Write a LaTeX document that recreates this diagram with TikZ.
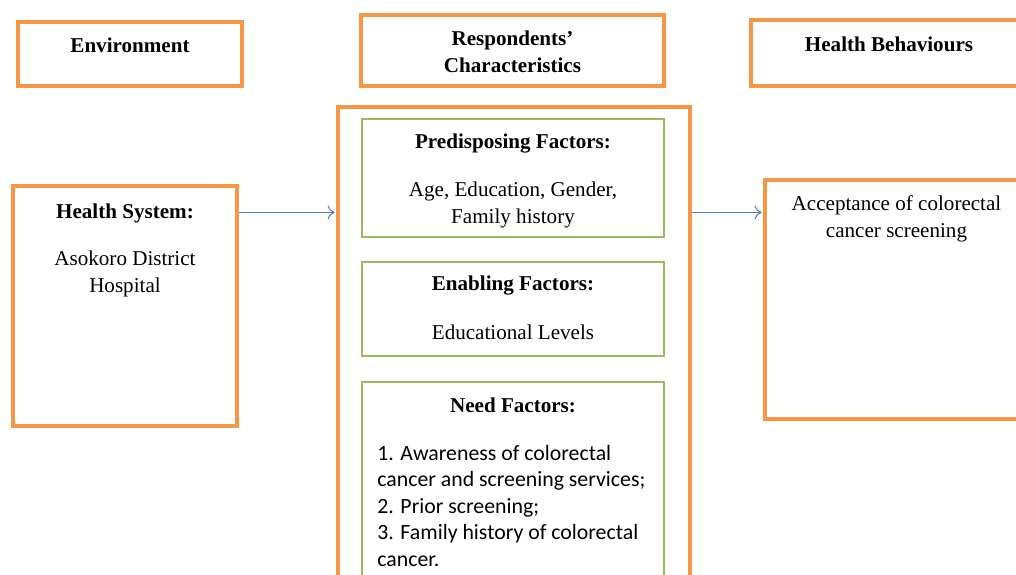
\documentclass[tikz,border=0pt]{standalone}
\usepackage{fontspec}
\setmainfont{Liberation Serif}
\newfontfamily\calibri{Carlito}
\usepackage{tikz}
\usetikzlibrary{positioning, arrows.meta}

\definecolor{boxorange}{RGB}{247,150,70}
\definecolor{boxgreen}{RGB}{155,187,89}
\definecolor{arrowblue}{RGB}{79,129,189}

\begin{document}
\begin{tikzpicture}[every node/.style={font=\fontsize{12}{15.5}\selectfont},
    obox/.style={draw=boxorange, line width=1.8pt, inner sep=0pt},
    gbox/.style={draw=boxgreen, line width=1.1pt, inner sep=0pt},
    txt/.style={align=center, inner sep=0pt},
    link/.style={-{To[length=4pt, width=8pt]}, arrowblue, line width=0.6pt}]
      \clip (0,0) rectangle (20.32,-11.5);

      % Kopfzeile
      \node[obox, minimum width=4.48cm, minimum height=1.28cm] (env) at (2.60,-1.08) {};
      \node[txt, below=0.34cm of env.north] (envtxt) {\textbf{Environment}};

      \node[obox, minimum width=6.06cm, minimum height=1.42cm] (resp) at (10.25,-1.01) {};
      \node[txt, below=0.34cm of resp.north] (resptxt) {\textbf{Respondents'}\\\textbf{Characteristics}};

      \node[obox, minimum width=5.52cm, minimum height=1.32cm] (behav) at (17.78,-1.06) {};
      \node[txt, below=0.36cm of behav.north] (behavtxt) {\textbf{Health Behaviours}};

      % Health System
      \node[obox, minimum width=4.48cm, minimum height=4.80cm] (hsys) at (2.50,-6.12) {};
      \node[txt, below=0.38cm of hsys.north] (hsystxt)
           {\textbf{Health System:}\\[0.4cm] Asokoro District\\Hospital};

      % Respondents' Characteristics
      \node[obox, minimum width=7.04cm, minimum height=10.26cm] (mid) at (10.28,-7.27) {};

      \node[gbox, minimum width=6.04cm, minimum height=2.36cm] (pre) at (10.26,-3.56) {};
      \node[txt, below=0.30cm of pre.north] (pretxt)
           {\textbf{Predisposing Factors:}\\[0.42cm] Age, Education, Gender,\\Family history};

      \node[gbox, minimum width=6.04cm, minimum height=1.88cm] (enab) at (10.26,-6.18) {};
      \node[txt, below=0.28cm of enab.north] (enabtxt)
           {\textbf{Enabling Factors:}\\[0.44cm] Educational Levels};

      \node[gbox, minimum width=6.04cm, minimum height=4.76cm] (need) at (10.26,-10.02) {};
      \node[txt, below=0.32cm of need.north] (needtitle) {\textbf{Need Factors:}};
      \coordinate (needleft) at (needtitle.south -| need.west);
      \node[inner sep=0pt, align=left, below right=0.64cm and 0.32cm of needleft,
            font=\calibri\fontsize{12.4}{15.1}\selectfont] (needtxt)
           {1. Awareness of colorectal\\cancer and screening services;\\2. Prior screening;\\3. Family history of colorectal\\cancer.};

      % Health Behaviours
      \node[obox, minimum width=5.26cm, minimum height=4.78cm] (acc) at (17.93,-5.99) {};
      \node[txt, below=0.34cm of acc.north] (acctxt)
           {Acceptance of colorectal\\cancer screening};

      % Pfeile
      \draw[link, shorten >=1pt] (hsystxt.north -| hsys.east) ++(0,-0.18) coordinate (a1)
            -- (a1 -| mid.west);
      \draw[link, shorten >=1pt] (a1 -| mid.east) -- (a1 -| acc.west);
\end{tikzpicture}
\end{document}
